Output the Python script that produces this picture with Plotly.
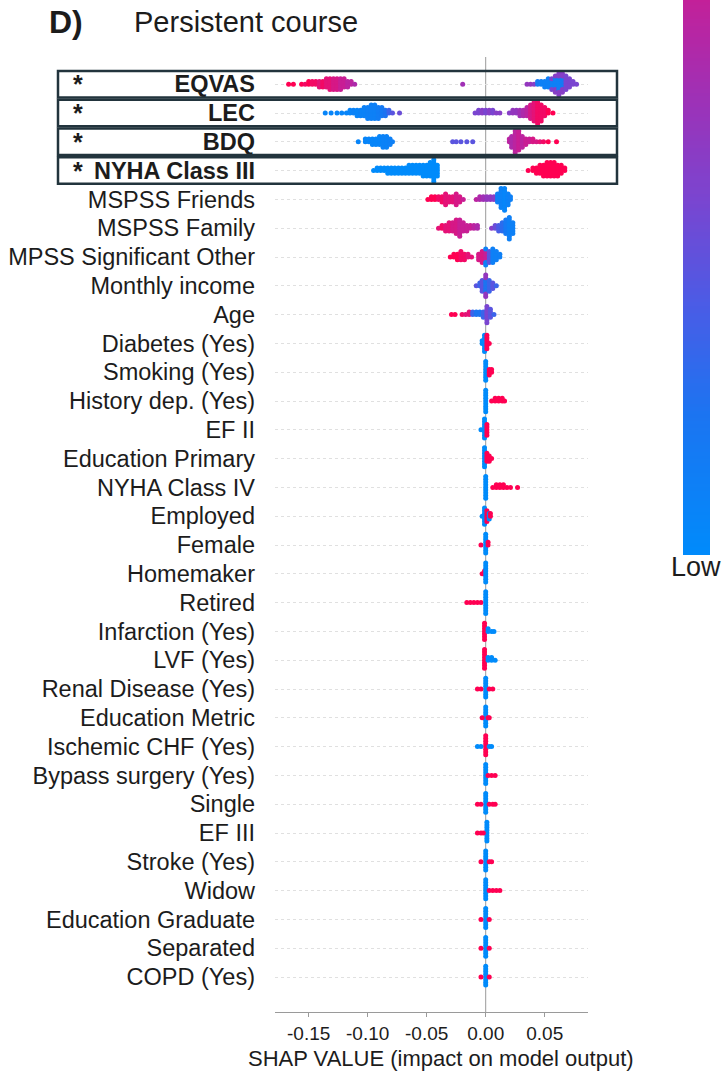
import numpy as np
import plotly.graph_objects as go

# ---------------- data ----------------
features = [
    "EQVAS", "LEC", "BDQ", "NYHA Class III", "MSPSS Friends", "MSPSS Family",
    "MPSS Significant Other", "Monthly income", "Age", "Diabetes (Yes)",
    "Smoking (Yes)", "History dep. (Yes)", "EF II", "Education Primary",
    "NYHA Class IV", "Employed", "Female", "Homemaker", "Retired",
    "Infarction (Yes)", "LVF (Yes)", "Renal Disease (Yes)", "Education Metric",
    "Ischemic CHF (Yes)", "Bypass surgery (Yes)", "Single", "EF III",
    "Stroke (Yes)", "Widow", "Education Graduate", "Separated", "COPD (Yes)",
]
highlighted = ["EQVAS", "LEC", "BDQ", "NYHA Class III"]
x_ticks = [-0.15, -0.10, -0.05, 0.00, 0.05]

# each entry: (SHAP value, number of samples at that value, feature value 0=low..1=high)
eqvas = [(-0.167, 1, 1.0), (-0.163, 1, 1.0), (-0.156, 1, 1.0), (-0.153, 1, 0.95),
         (-0.150, 2, 1.0), (-0.147, 2, 0.95), (-0.144, 2, 0.95), (-0.141, 3, 0.9),
         (-0.138, 3, 0.95), (-0.135, 4, 0.9), (-0.132, 5, 0.9), (-0.129, 5, 0.85),
         (-0.126, 5, 0.85), (-0.123, 5, 0.8), (-0.120, 4, 0.8), (-0.117, 3, 0.75),
         (-0.114, 2, 0.75), (-0.111, 1, 0.7), (-0.0195, 1, 0.65),
         (0.035, 1, 0.6), (0.038, 1, 0.6), (0.041, 1, 0.55), (0.044, 2, 0.15),
         (0.047, 2, 0.1), (0.050, 3, 0.1), (0.053, 4, 0.1), (0.056, 3, 0.1), (0.056, 2, 0.5),
         (0.059, 4, 0.1), (0.059, 3, 0.55), (0.062, 5, 0.1), (0.062, 4, 0.55),
         (0.065, 4, 0.15), (0.065, 4, 0.55), (0.068, 6, 0.5), (0.071, 4, 0.5),
         (0.074, 2, 0.5), (0.077, 1, 0.5)]
lec = [(-0.136, 1, 0.05), (-0.131, 1, 0.05), (-0.126, 1, 0.05), (-0.122, 1, 0.05),
       (-0.118, 1, 0.05), (-0.115, 2, 0.05), (-0.112, 2, 0.08), (-0.109, 3, 0.05),
       (-0.106, 3, 0.08), (-0.103, 4, 0.08), (-0.100, 5, 0.1), (-0.097, 6, 0.1),
       (-0.094, 6, 0.1), (-0.091, 5, 0.12), (-0.088, 4, 0.15), (-0.085, 3, 0.2),
       (-0.082, 2, 0.3), (-0.079, 1, 0.4), (-0.073, 1, 0.45),
       (-0.009, 1, 0.5), (-0.006, 2, 0.5), (-0.003, 2, 0.55), (0.000, 2, 0.5),
       (0.003, 2, 0.55), (0.006, 2, 0.5), (0.009, 1, 0.55), (0.012, 1, 0.55),
       (0.020, 1, 0.55), (0.023, 2, 0.6), (0.026, 2, 0.6), (0.029, 3, 0.65),
       (0.032, 3, 0.7), (0.035, 4, 0.75), (0.038, 6, 0.85), (0.041, 8, 0.9),
       (0.044, 9, 0.95), (0.047, 7, 0.95), (0.050, 4, 0.95), (0.053, 2, 1.0),
       (0.057, 1, 1.0)]
bdq = [(-0.108, 1, 0.05), (-0.102, 2, 0.05), (-0.099, 2, 0.05), (-0.096, 3, 0.05),
       (-0.093, 3, 0.05), (-0.090, 4, 0.05), (-0.087, 5, 0.08), (-0.084, 5, 0.08),
       (-0.081, 3, 0.1), (-0.079, 1, 0.1),
       (-0.028, 1, 0.4), (-0.025, 1, 0.4), (-0.021, 1, 0.4), (-0.016, 1, 0.4),
       (-0.011, 1, 0.4),
       (0.020, 2, 0.75), (0.022, 5, 0.7), (0.025, 9, 0.75), (0.028, 8, 0.8),
       (0.031, 5, 0.75), (0.034, 3, 0.8), (0.037, 2, 0.8), (0.040, 2, 0.85),
       (0.043, 1, 0.85), (0.046, 1, 0.9), (0.049, 1, 0.95), (0.053, 1, 1.0),
       (0.060, 1, 1.0)]
nyha3 = [(-0.095, 1, 0.0), (-0.092, 2, 0.0), (-0.089, 2, 0.0), (-0.086, 2, 0.0),
         (-0.083, 3, 0.0), (-0.080, 3, 0.0), (-0.077, 3, 0.0), (-0.074, 3, 0.0),
         (-0.071, 3, 0.0), (-0.068, 3, 0.0), (-0.065, 4, 0.0), (-0.062, 4, 0.0),
         (-0.059, 4, 0.0), (-0.056, 4, 0.0), (-0.053, 5, 0.0), (-0.050, 5, 0.0),
         (-0.047, 6, 0.0), (-0.044, 9, 0.0), (-0.041, 5, 0.0),
         (0.036, 1, 1.0), (0.040, 2, 1.0), (0.043, 3, 1.0), (0.046, 4, 1.0),
         (0.049, 5, 1.0), (0.052, 6, 1.0), (0.055, 6, 1.0), (0.058, 6, 1.0),
         (0.061, 5, 1.0), (0.064, 4, 1.0), (0.067, 2, 1.0)]
mspss_friends = [(-0.049, 1, 1.0), (-0.046, 2, 1.0), (-0.043, 2, 1.0), (-0.040, 2, 0.95),
                 (-0.037, 3, 0.95), (-0.034, 5, 0.9), (-0.031, 3, 0.9), (-0.028, 3, 0.9),
                 (-0.025, 5, 0.85), (-0.022, 3, 0.85), (-0.019, 1, 0.8),
                 (-0.008, 1, 0.75), (-0.005, 2, 0.7), (-0.002, 2, 0.65), (0.001, 2, 0.6),
                 (0.004, 2, 0.6), (0.007, 2, 0.55),
                 (0.010, 4, 0.1), (0.013, 8, 0.08), (0.016, 9, 0.05), (0.019, 5, 0.08),
                 (0.021, 2, 0.1)]
mspss_family = [(-0.040, 1, 0.9), (-0.037, 2, 0.95), (-0.034, 3, 0.9), (-0.031, 4, 0.9),
                (-0.028, 4, 0.85), (-0.025, 6, 0.85), (-0.022, 7, 0.8), (-0.019, 4, 0.8),
                (-0.016, 3, 0.8), (-0.013, 2, 0.8), (-0.010, 2, 0.75), (-0.007, 2, 0.7),
                (0.005, 1, 0.55), (0.008, 2, 0.45), (0.011, 3, 0.35), (0.014, 4, 0.25),
                (0.017, 6, 0.15), (0.020, 9, 0.1), (0.023, 5, 0.1)]
mpss_sig_other = [(-0.030, 1, 1.0), (-0.027, 2, 1.0), (-0.024, 3, 1.0), (-0.021, 4, 0.95),
                  (-0.018, 3, 0.95), (-0.015, 2, 0.9), (-0.012, 1, 0.9),
                  (-0.006, 3, 0.85), (-0.003, 5, 0.85), (0.000, 4, 0.8), (0.000, 3, 0.1),
                  (0.003, 5, 0.4), (0.006, 6, 0.1), (0.009, 4, 0.1), (0.012, 2, 0.1)]
monthly_income = [(-0.008, 1, 0.4), (-0.005, 2, 0.3), (-0.003, 5, 0.4), (0.000, 5, 0.2),
                  (0.000, 4, 0.6), (0.003, 5, 0.3), (0.006, 3, 0.4), (0.009, 1, 0.3)]
age = [(-0.029, 1, 1.0), (-0.026, 1, 1.0), (-0.020, 1, 0.95), (-0.017, 1, 0.9),
       (-0.014, 2, 0.9), (-0.011, 2, 0.3), (-0.008, 2, 0.2), (-0.005, 2, 0.2),
       (-0.002, 3, 0.3), (0.001, 7, 0.5), (0.004, 4, 0.4), (0.007, 1, 0.3)]
diabetes = [(-0.003, 2, 0.0), (-0.001, 7, 0.0), (0.001, 6, 1.0), (0.003, 1, 1.0)]
smoking = [(0.000, 8, 0.0), (0.003, 3, 1.0), (0.005, 2, 1.0)]
history_dep = [(0.000, 9, 0.0), (0.005, 1, 1.0), (0.008, 2, 1.0), (0.011, 2, 1.0),
               (0.014, 2, 1.0), (0.016, 1, 1.0)]
ef2 = [(-0.004, 1, 0.0), (-0.001, 8, 0.0), (0.001, 5, 1.0)]
edu_primary = [(-0.001, 8, 0.0), (0.001, 4, 1.0), (0.003, 3, 1.0), (0.005, 1, 1.0)]
nyha4 = [(0.000, 9, 0.0), (0.006, 1, 1.0), (0.009, 2, 1.0), (0.012, 2, 1.0),
         (0.015, 2, 1.0), (0.018, 1, 1.0), (0.021, 1, 1.0), (0.027, 1, 1.0)]
employed = [(-0.003, 1, 0.0), (-0.001, 7, 0.0), (0.001, 5, 1.0), (0.003, 3, 0.0),
            (0.004, 2, 1.0)]
female = [(-0.004, 1, 1.0), (0.000, 8, 0.0), (0.002, 2, 1.0)]
homemaker = [(-0.003, 1, 1.0), (-0.001, 2, 1.0), (0.000, 8, 0.0)]
retired = [(-0.016, 1, 1.0), (-0.013, 1, 1.0), (-0.010, 1, 1.0), (-0.007, 1, 1.0),
           (-0.004, 1, 1.0), (0.000, 9, 0.0)]
infarction = [(-0.001, 7, 1.0), (0.002, 2, 0.0), (0.005, 1, 0.0), (0.007, 1, 0.0)]
lvf = [(-0.001, 8, 1.0), (0.002, 2, 0.0), (0.005, 2, 0.0), (0.008, 1, 0.0)]
renal = [(0.000, 8, 0.0), (-0.007, 1, 1.0), (-0.004, 1, 1.0), (0.003, 1, 1.0),
         (0.006, 1, 1.0)]
edu_metric = [(0.000, 8, 0.0), (-0.003, 1, 1.0), (0.002, 1, 1.0), (0.003, 1, 1.0)]
ischemic_chf = [(0.000, 8, 1.0), (-0.007, 1, 0.0), (-0.004, 1, 0.0), (0.003, 1, 0.0),
                (0.005, 1, 0.0)]
bypass = [(0.000, 8, 0.0), (0.002, 1, 1.0), (0.005, 1, 1.0), (0.008, 1, 1.0)]
single = [(0.000, 8, 0.0), (-0.007, 1, 1.0), (-0.004, 1, 1.0), (0.003, 1, 1.0),
          (0.006, 1, 1.0), (0.008, 1, 1.0)]
ef3 = [(0.001, 8, 0.0), (-0.007, 1, 1.0), (-0.004, 1, 1.0), (-0.002, 1, 1.0)]
stroke = [(0.000, 8, 0.0), (-0.004, 1, 1.0), (0.003, 1, 1.0), (0.005, 1, 1.0)]
widow = [(0.000, 8, 0.0), (0.003, 1, 1.0), (0.006, 1, 1.0), (0.009, 1, 1.0),
         (0.012, 1, 1.0)]
edu_graduate = [(0.000, 8, 0.0), (-0.004, 1, 1.0), (0.003, 1, 1.0)]
separated = [(0.000, 8, 0.0), (-0.004, 1, 1.0), (0.003, 1, 1.0)]
copd = [(0.000, 8, 0.0), (-0.004, 1, 1.0), (0.003, 1, 1.0)]

swarms = [eqvas, lec, bdq, nyha3, mspss_friends, mspss_family, mpss_sig_other,
          monthly_income, age, diabetes, smoking, history_dep, ef2, edu_primary,
          nyha4, employed, female, homemaker, retired, infarction, lvf, renal,
          edu_metric, ischemic_chf, bypass, single, ef3, stroke, widow,
          edu_graduate, separated, copd]

# ---------------- styling ----------------
W, H = 728, 1077
FONT = "Liberation Sans, Arial, sans-serif"
TXT = "#1c1c1c"
colorscale = [[0.0, "#008bfb"], [0.2, "#1c74f1"], [0.35, "#4a5ce6"],
              [0.5, "#7a45d0"], [0.65, "#a030b5"], [0.8, "#c81e95"],
              [0.9, "#e41277"], [1.0, "#ff0052"]]

PX_L, PX_R = 275, 588          # plot area in pixels
PX_T, PX_B = 57, 1012
ROW_PX = 28.8
n = len(features)
y_lo = -(PX_B - 977) / ROW_PX
y_hi = y_lo + (PX_B - PX_T) / ROW_PX
STACK = 2.7 / ROW_PX            # vertical spacing of stacked dots

xs, ys, cs = [], [], []
for i, bins in enumerate(swarms):
    row = n - 1 - i
    used = {}
    for x, cnt, c in bins:
        key = round(x, 4)
        k0 = used.get(key, 0)
        for j in range(cnt):
            idx = k0 + j
            off = ((idx + 1) // 2) * (1 if idx % 2 else -1)
            xs.append(x)
            ys.append(row + off * STACK)
            cs.append(c)
        used[key] = k0 + cnt

fig = go.Figure()

fig.add_trace(go.Scatter(
    x=xs, y=ys, mode="markers",
    marker=dict(size=5, color=cs, colorscale=colorscale, cmin=0, cmax=1,
                line=dict(width=0), showscale=False),
    hoverinfo="skip", showlegend=False,
))

# colour bar (its top runs past the top of the page, as in the reference)
levels = list(np.linspace(0, 0.78, 160))
fig.add_trace(go.Heatmap(
    x=[0], y=levels, z=[[v] for v in levels], colorscale=colorscale,
    zmin=0, zmax=1, showscale=False, xaxis="x2", yaxis="y2", hoverinfo="skip",
))

row_vals = [n - 1 - i for i in range(n)]
tick_text = [f"<b>{f}</b>" if f in highlighted else f for f in features]

fig.update_layout(
    width=W, height=H,
    margin=dict(l=0, r=0, t=0, b=0),
    paper_bgcolor="white", plot_bgcolor="white",
    font=dict(family=FONT, color=TXT),
    xaxis=dict(
        domain=[PX_L / W, PX_R / W],
        range=[(PX_L - 485.7) / 1180, (PX_R - 485.7) / 1180],
        tickvals=x_ticks, ticktext=[f"{v:.2f}" for v in x_ticks],
        tickfont=dict(size=19, color=TXT),
        showgrid=False, zeroline=False,
        showline=True, linecolor="#9a9a9a", linewidth=1,
        ticks="outside", ticklen=4, tickcolor="#9a9a9a",
    ),
    yaxis=dict(
        domain=[1 - PX_B / H, 1 - PX_T / H],
        range=[y_lo, y_hi],
        tickvals=row_vals, ticktext=tick_text,
        tickfont=dict(size=23.5, color=TXT),
        showgrid=True, gridcolor="#e0e0e0", griddash="dot", gridwidth=1,
        zeroline=False, showline=False, ticks="",
        ticklabelstandoff=19,
    ),
    xaxis2=dict(domain=[683 / W, 710 / W], range=[-0.5, 0.5], visible=False,
                anchor="y2"),
    yaxis2=dict(domain=[1 - 555 / H, 1], range=[0, 0.78], visible=False,
                anchor="x2"),
)

# zero line
fig.add_shape(type="line", xref="x", yref="paper", x0=0, x1=0,
              y0=1 - PX_B / H, y1=1 - PX_T / H,
              line=dict(color="#9a9a9a", width=1), layer="below")

# highlight boxes and stars
for f in highlighted:
    v = n - 1 - features.index(f)
    fig.add_shape(type="rect", xref="paper", yref="y",
                  x0=58 / W, x1=617 / W, y0=v - 0.46, y1=v + 0.46,
                  line=dict(color="#22343d", width=2.5), layer="above")
    fig.add_annotation(text="<b>*</b>", xref="paper", yref="y", x=78 / W, y=v,
                       showarrow=False, font=dict(size=25, color=TXT),
                       xanchor="center", yanchor="middle")

# title
fig.add_annotation(text="<b>D)</b>", xref="paper", yref="paper", x=47 / W,
                   y=1 - 22 / H, showarrow=False, xanchor="left",
                   yanchor="middle", font=dict(size=32, color=TXT))
fig.add_annotation(text="Persistent course", xref="paper", yref="paper",
                   x=132 / W, y=1 - 22 / H, showarrow=False, xanchor="left",
                   yanchor="middle", font=dict(size=29, color=TXT))
# axis title
fig.add_annotation(text="SHAP VALUE (impact on model output)", xref="paper",
                   yref="paper", x=441 / W, y=1 - 1058 / H, showarrow=False,
                   xanchor="center", yanchor="middle",
                   font=dict(size=22, color=TXT))
# colour bar labels
fig.add_annotation(text="Low", xref="paper", yref="paper", x=696 / W,
                   y=1 - 567 / H, showarrow=False, xanchor="center",
                   yanchor="middle", font=dict(size=27, color=TXT))
fig.add_annotation(text="Feature value", xref="paper", yref="paper", x=737 / W,
                   y=1 - 97 / H, showarrow=False, xanchor="center",
                   yanchor="middle", textangle=-90,
                   font=dict(size=21, color=TXT))

fig.write_html("out.html",
               config={"displayModeBar": False},
               post_script="document.body.style.margin='0';")
